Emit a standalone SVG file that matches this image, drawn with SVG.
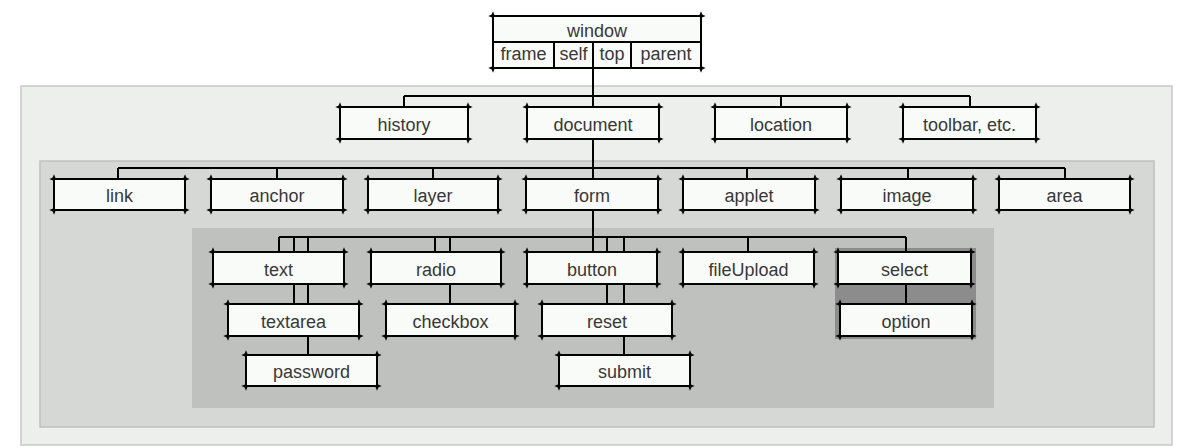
<svg xmlns="http://www.w3.org/2000/svg" width="1180" height="448" viewBox="0 0 1180 448">
<style>
.bg{fill:#ffffff}
.p1{fill:#edefed;stroke:#c6c8c6;stroke-width:1.5}
.p2{fill:#d5d8d5;stroke:#bec1be;stroke-width:1.5}
.p3{fill:#bfc1be}
.p4{fill:#8b8c8b}
.box{fill:#f8fbf8;stroke:none}
.e{stroke:#000;stroke-width:2;fill:none;marker-start:url(#tip);marker-end:url(#tip)}
.c{stroke:#000;stroke-width:2;fill:none}
.d{stroke:#000;stroke-width:2}
text{font-family:"Liberation Sans",Arial,Helvetica,sans-serif;font-size:18px;fill:#383838;text-anchor:middle}
</style>
<defs>
<marker id="tip" markerUnits="userSpaceOnUse" markerWidth="4" markerHeight="4" viewBox="0 0 6 6" refX="2" refY="3" orient="auto-start-reverse">
<path d="M0,0.5 L6,3 L0,5.5 z" fill="#000"/>
</marker>
</defs>
<rect class="bg" x="0" y="0" width="1180" height="448"/>
<g id="panels">
<rect class="p1" x="21" y="86" width="1151" height="359"/>
<rect class="p2" x="40" y="161" width="1114" height="266"/>
<rect class="p3" x="192" y="228" width="802" height="180"/>
<rect class="p4" x="835" y="248" width="141" height="91"/>
</g>
<g id="connectors">
<path class="c" d="M593,68 V252"/>
<path class="c" d="M404,96 H970 M404,96 V107 M781,96 V107 M970,96 V107"/>
<path class="c" d="M118,168 H1065 M118,168 V179 M277,168 V179 M433,168 V179 M747,168 V179 M908,168 V179 M1065,168 V179"/>
<path class="c" d="M279,237 H906 M279,237 V252 M294,237 V304 M308,237 V355 M435,237 V252 M450,237 V304 M607,237 V304 M624,237 V355 M748,237 V252 M906,237 V304"/>
</g>
<g id="window">
<rect class="box" x="493" y="16" width="208" height="52"/>
<line class="e" x1="491" y1="16" x2="703" y2="16"/>
<line class="e" x1="491" y1="68" x2="703" y2="68"/>
<line class="e" x1="493" y1="14" x2="493" y2="70"/>
<line class="e" x1="701" y1="14" x2="701" y2="70"/>
<line class="d" x1="493" y1="42" x2="701" y2="42"/>
<line class="d" x1="554" y1="42" x2="554" y2="68"/>
<line class="d" x1="593" y1="42" x2="593" y2="68"/>
<line class="d" x1="631" y1="42" x2="631" y2="68"/>
<text x="597" y="37">window</text>
<text x="523.5" y="60">frame</text>
<text x="573.5" y="60">self</text>
<text x="612" y="60">top</text>
<text x="666" y="60">parent</text>
</g>
<g id="history">
<rect class="box" x="340" y="107" width="128" height="32"/>
<line class="e" x1="338" y1="107" x2="470" y2="107"/><line class="e" x1="338" y1="139" x2="470" y2="139"/>
<line class="e" x1="340" y1="105" x2="340" y2="141"/><line class="e" x1="468" y1="105" x2="468" y2="141"/>
<text x="404" y="131">history</text>
</g>
<g id="document">
<rect class="box" x="527" y="107" width="132" height="32"/>
<line class="e" x1="525" y1="107" x2="661" y2="107"/><line class="e" x1="525" y1="139" x2="661" y2="139"/>
<line class="e" x1="527" y1="105" x2="527" y2="141"/><line class="e" x1="659" y1="105" x2="659" y2="141"/>
<text x="593" y="131">document</text>
</g>
<g id="location">
<rect class="box" x="715" y="107" width="132" height="32"/>
<line class="e" x1="713" y1="107" x2="849" y2="107"/><line class="e" x1="713" y1="139" x2="849" y2="139"/>
<line class="e" x1="715" y1="105" x2="715" y2="141"/><line class="e" x1="847" y1="105" x2="847" y2="141"/>
<text x="781" y="131">location</text>
</g>
<g id="toolbar">
<rect class="box" x="903" y="107" width="133" height="32"/>
<line class="e" x1="901" y1="107" x2="1038" y2="107"/><line class="e" x1="901" y1="139" x2="1038" y2="139"/>
<line class="e" x1="903" y1="105" x2="903" y2="141"/><line class="e" x1="1036" y1="105" x2="1036" y2="141"/>
<text x="969.5" y="131">toolbar, etc.</text>
</g>
<g id="link">
<rect class="box" x="54" y="179" width="131" height="31"/>
<line class="e" x1="52" y1="179" x2="187" y2="179"/><line class="e" x1="52" y1="210" x2="187" y2="210"/>
<line class="e" x1="54" y1="177" x2="54" y2="212"/><line class="e" x1="185" y1="177" x2="185" y2="212"/>
<text x="119.5" y="202">link</text>
</g>
<g id="anchor">
<rect class="box" x="211" y="179" width="132" height="31"/>
<line class="e" x1="209" y1="179" x2="345" y2="179"/><line class="e" x1="209" y1="210" x2="345" y2="210"/>
<line class="e" x1="211" y1="177" x2="211" y2="212"/><line class="e" x1="343" y1="177" x2="343" y2="212"/>
<text x="277" y="202">anchor</text>
</g>
<g id="layer">
<rect class="box" x="368" y="179" width="130" height="31"/>
<line class="e" x1="366" y1="179" x2="500" y2="179"/><line class="e" x1="366" y1="210" x2="500" y2="210"/>
<line class="e" x1="368" y1="177" x2="368" y2="212"/><line class="e" x1="498" y1="177" x2="498" y2="212"/>
<text x="433" y="202">layer</text>
</g>
<g id="form">
<rect class="box" x="526" y="179" width="132" height="31"/>
<line class="e" x1="524" y1="179" x2="660" y2="179"/><line class="e" x1="524" y1="210" x2="660" y2="210"/>
<line class="e" x1="526" y1="177" x2="526" y2="212"/><line class="e" x1="658" y1="177" x2="658" y2="212"/>
<text x="592" y="202">form</text>
</g>
<g id="applet">
<rect class="box" x="683" y="179" width="132" height="31"/>
<line class="e" x1="681" y1="179" x2="817" y2="179"/><line class="e" x1="681" y1="210" x2="817" y2="210"/>
<line class="e" x1="683" y1="177" x2="683" y2="212"/><line class="e" x1="815" y1="177" x2="815" y2="212"/>
<text x="749" y="202">applet</text>
</g>
<g id="image">
<rect class="box" x="841" y="179" width="132" height="31"/>
<line class="e" x1="839" y1="179" x2="975" y2="179"/><line class="e" x1="839" y1="210" x2="975" y2="210"/>
<line class="e" x1="841" y1="177" x2="841" y2="212"/><line class="e" x1="973" y1="177" x2="973" y2="212"/>
<text x="907" y="202">image</text>
</g>
<g id="area">
<rect class="box" x="999" y="179" width="131" height="31"/>
<line class="e" x1="997" y1="179" x2="1132" y2="179"/><line class="e" x1="997" y1="210" x2="1132" y2="210"/>
<line class="e" x1="999" y1="177" x2="999" y2="212"/><line class="e" x1="1130" y1="177" x2="1130" y2="212"/>
<text x="1064.5" y="202">area</text>
</g>
<g id="text">
<rect class="box" x="213" y="252" width="131" height="32"/>
<line class="e" x1="211" y1="252" x2="346" y2="252"/><line class="e" x1="211" y1="284" x2="346" y2="284"/>
<line class="e" x1="213" y1="250" x2="213" y2="286"/><line class="e" x1="344" y1="250" x2="344" y2="286"/>
<text x="278.5" y="276">text</text>
</g>
<g id="radio">
<rect class="box" x="371" y="252" width="130" height="32"/>
<line class="e" x1="369" y1="252" x2="503" y2="252"/><line class="e" x1="369" y1="284" x2="503" y2="284"/>
<line class="e" x1="371" y1="250" x2="371" y2="286"/><line class="e" x1="501" y1="250" x2="501" y2="286"/>
<text x="436" y="276">radio</text>
</g>
<g id="button">
<rect class="box" x="527" y="252" width="130" height="32"/>
<line class="e" x1="525" y1="252" x2="659" y2="252"/><line class="e" x1="525" y1="284" x2="659" y2="284"/>
<line class="e" x1="527" y1="250" x2="527" y2="286"/><line class="e" x1="657" y1="250" x2="657" y2="286"/>
<text x="592" y="276">button</text>
</g>
<g id="fileUpload">
<rect class="box" x="683" y="252" width="131" height="32"/>
<line class="e" x1="681" y1="252" x2="816" y2="252"/><line class="e" x1="681" y1="284" x2="816" y2="284"/>
<line class="e" x1="683" y1="250" x2="683" y2="286"/><line class="e" x1="814" y1="250" x2="814" y2="286"/>
<text x="748.5" y="276">fileUpload</text>
</g>
<g id="select">
<rect class="box" x="838" y="252" width="133" height="32"/>
<line class="e" x1="836" y1="252" x2="973" y2="252"/><line class="e" x1="836" y1="284" x2="973" y2="284"/>
<line class="e" x1="838" y1="250" x2="838" y2="286"/><line class="e" x1="971" y1="250" x2="971" y2="286"/>
<text x="904.5" y="276">select</text>
</g>
<g id="textarea">
<rect class="box" x="228" y="304" width="131" height="32"/>
<line class="e" x1="226" y1="304" x2="361" y2="304"/><line class="e" x1="226" y1="336" x2="361" y2="336"/>
<line class="e" x1="228" y1="302" x2="228" y2="338"/><line class="e" x1="359" y1="302" x2="359" y2="338"/>
<text x="293.5" y="328">textarea</text>
</g>
<g id="checkbox">
<rect class="box" x="386" y="304" width="129" height="32"/>
<line class="e" x1="384" y1="304" x2="517" y2="304"/><line class="e" x1="384" y1="336" x2="517" y2="336"/>
<line class="e" x1="386" y1="302" x2="386" y2="338"/><line class="e" x1="515" y1="302" x2="515" y2="338"/>
<text x="450.5" y="328">checkbox</text>
</g>
<g id="reset">
<rect class="box" x="542" y="304" width="130" height="32"/>
<line class="e" x1="540" y1="304" x2="674" y2="304"/><line class="e" x1="540" y1="336" x2="674" y2="336"/>
<line class="e" x1="542" y1="302" x2="542" y2="338"/><line class="e" x1="672" y1="302" x2="672" y2="338"/>
<text x="607" y="328">reset</text>
</g>
<g id="option">
<rect class="box" x="840" y="304" width="132" height="32"/>
<line class="e" x1="838" y1="304" x2="974" y2="304"/><line class="e" x1="838" y1="336" x2="974" y2="336"/>
<line class="e" x1="840" y1="302" x2="840" y2="338"/><line class="e" x1="972" y1="302" x2="972" y2="338"/>
<text x="906" y="328">option</text>
</g>
<g id="password">
<rect class="box" x="246" y="355" width="131" height="31"/>
<line class="e" x1="244" y1="355" x2="379" y2="355"/><line class="e" x1="244" y1="386" x2="379" y2="386"/>
<line class="e" x1="246" y1="353" x2="246" y2="388"/><line class="e" x1="377" y1="353" x2="377" y2="388"/>
<text x="311.5" y="378">password</text>
</g>
<g id="submit">
<rect class="box" x="559" y="355" width="131" height="31"/>
<line class="e" x1="557" y1="355" x2="692" y2="355"/><line class="e" x1="557" y1="386" x2="692" y2="386"/>
<line class="e" x1="559" y1="353" x2="559" y2="388"/><line class="e" x1="690" y1="353" x2="690" y2="388"/>
<text x="624.5" y="378">submit</text>
</g>
</svg>
